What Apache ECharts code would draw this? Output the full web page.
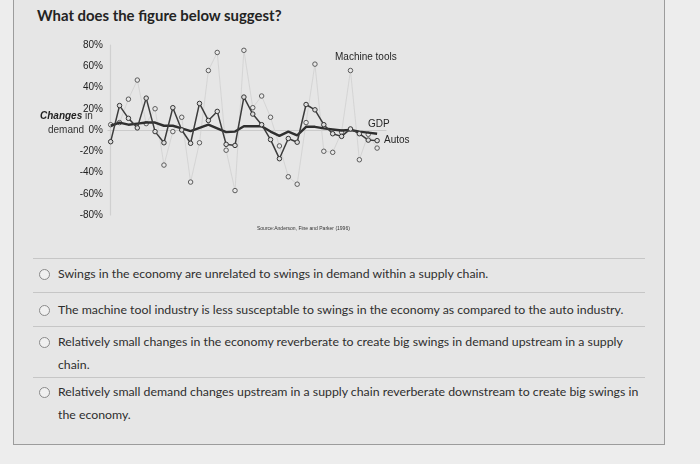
<!DOCTYPE html>
<html>
<head>
<meta charset="utf-8">
<script src="https://cdn.jsdelivr.net/npm/echarts@6/dist/echarts.min.js"></script>
<style>
  html, body { margin: 0; padding: 0; }
  body { width: 700px; height: 464px; overflow: hidden; background: #ededed; position: relative; font-family: Lato, "Open Sans", sans-serif; }
  #frame { position: absolute; left: 13px; top: -2px; width: 650px; height: 445px; border: 1px solid #9c9c9c; background: #e6e6e6; }
  #title { position: absolute; left: 37px; top: 6px; font-family: Lato, sans-serif; font-weight: 700; font-size: 14.9px; color: #232323; white-space: nowrap; }
  .sep { position: absolute; left: 33px; width: 612px; height: 0; border-top: 1px solid #c6c6c6; }
  .opt { position: absolute; left: 58px; font-family: Lato, sans-serif; font-size: 12.3px; color: #2e2e2e; white-space: nowrap; line-height: 14px; }
  .radio { position: absolute; left: 39px; width: 9px; height: 9px; border: 1.3px solid #8a8a8a; border-radius: 50%; background: #f0f0f0; }
  #chart { position: absolute; left: 0; top: 0; width: 700px; height: 250px; }
</style>
</head>
<body>
<div id="frame"></div>
<div id="title">What does the figure below suggest?</div>

<div class="sep" style="top:258px"></div>
<div class="sep" style="top:292px"></div>
<div class="sep" style="top:326px"></div>
<div class="sep" style="top:377px"></div>

<div class="radio" style="top:269px"></div>
<div class="opt" style="top:267px">Swings in the economy are unrelated to swings in demand within a supply chain.</div>

<div class="radio" style="top:305px"></div>
<div class="opt" style="top:303px">The machine tool industry is less susceptable to swings in the economy as compared to the auto industry.</div>

<div class="radio" style="top:337px"></div>
<div class="opt" style="top:335px">Relatively small changes in the economy reverberate to create big swings in demand upstream in a supply</div>
<div class="opt" style="top:358px">chain.</div>

<div class="radio" style="top:387px"></div>
<div class="opt" style="top:385px">Relatively small demand changes upstream in a supply chain reverberate downstream to create big swings in</div>
<div class="opt" style="top:408px">the economy.</div>

<div id="chart"></div>

<script>
// ---- data (changes in demand, %) ----
const periodIndex = [0, 1, 2, 3, 4, 5, 6, 7, 8, 9, 10, 11, 12, 13, 14, 15, 16, 17, 18, 19, 20, 21, 22, 23, 24, 25, 26, 27, 28, 29, 30];
const machineTools = [5, 7, 29, 47, 6, 20, -33, -1.5, 12, -49, -12, 56, 73, -19, -57, 75, 21, 32, 12, -15, -44, -51, 7, 62, -20, -21, -2, 56, -28, -4, -17];
const autos = [-11, 23, 11, 2, 30, -1.5, -12, 21, 0, -12.5, 25, 9, 17.5, -13.5, -14.5, 31, 15, 5, -9, -27, -8, -11.5, 24, 19, 5, -3.5, -6, 1, -3.5, -9.5, -10];
const gdp = [4, 7, 5, 6, 7, 7, 4, 4, 1.5, -1, 2, 5, 1.5, -2, -1.5, 3.5, 3.5, 3.5, -1.5, -5.5, -1.5, -5, 3, 3, 1.5, 0.5, -0.5, 0, -1.5, -2.5, -3.5];
const yTicks = [-80, -60, -40, -20, 0, 20, 40, 60, 80];
const seriesNames = ['Machine tools', 'GDP', 'Autos'];
const sourceText = 'Source:Anderson, Fine and Parker (1996)';

function pairs(vals) { return periodIndex.map((p, i) => [p, vals[i]]); }

const chart = echarts.init(document.getElementById('chart'), null, { renderer: 'canvas' });
const chartFont = '"Liberation Sans", Arial, sans-serif';

chart.setOption({
  animation: false,
  grid: { left: 108, right: 314, top: 45, bottom: 35 },
  xAxis: {
    type: 'value', min: -0.3, max: 31,
    axisLine: { show: true, onZero: true, lineStyle: { color: '#cbcbcb', width: 1.2 } },
    axisTick: { show: false }, axisLabel: { show: false }, splitLine: { show: false }
  },
  yAxis: {
    type: 'value', min: yTicks[0], max: yTicks[yTicks.length - 1], interval: 20,
    axisLine: { show: true, lineStyle: { color: '#d0d0d0', width: 1.2 } },
    axisTick: { show: false }, splitLine: { show: false },
    axisLabel: { formatter: '{value}%', color: '#222', fontSize: 10, fontFamily: chartFont, margin: 5 }
  },
  series: [
    {
      name: seriesNames[0], type: 'line', data: pairs(machineTools), z: 2,
      lineStyle: { color: '#d2d2d2', width: 0.9 },
      symbol: 'circle', symbolSize: 4.5,
      itemStyle: { color: '#e9e9e9', borderColor: '#5a5a5a', borderWidth: 1 }
    },
    {
      name: seriesNames[1], type: 'line', data: pairs(gdp), z: 3,
      lineStyle: { color: '#2f2f2f', width: 2.4 },
      symbol: 'none'
    },
    {
      name: seriesNames[2], type: 'line', data: pairs(autos), z: 4,
      lineStyle: { color: '#3c3c3c', width: 1.5 },
      symbol: 'circle', symbolSize: 4.5,
      itemStyle: { color: '#dcdcdc', borderColor: '#333', borderWidth: 1 }
    }
  ],
  graphic: [
    { type: 'text', left: 335, top: 52, style: { text: seriesNames[0], font: '10px ' + chartFont, fill: '#262626' } },
    { type: 'text', left: 368, top: 119, style: { text: seriesNames[1], font: '10px ' + chartFont, fill: '#262626' } },
    { type: 'text', left: 384, top: 135, style: { text: seriesNames[2], font: '10px ' + chartFont, fill: '#262626' } },
    { type: 'text', left: 40, top: 111, style: {
        text: '{b|Changes} {n|in}', font: '10px ' + chartFont, fill: '#333',
        rich: {
          b: { fontWeight: 'bold', fontStyle: 'italic', fontSize: 10, fontFamily: chartFont, fill: '#222' },
          n: { fontSize: 10, fontFamily: chartFont, fill: '#333' }
        }
    } },
    { type: 'text', left: 48, top: 125, style: { text: 'demand', font: '10px ' + chartFont, fill: '#333' } },
    { type: 'text', left: 257, top: 226, style: { text: sourceText, font: '5px ' + chartFont, fill: '#333' } }
  ]
});
</script>
</body>
</html>
